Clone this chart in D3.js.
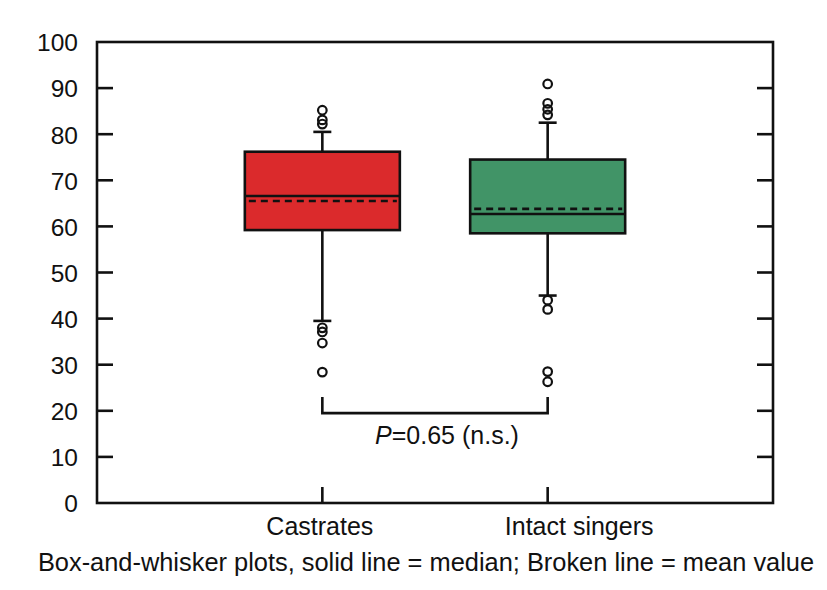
<!DOCTYPE html>
<html>
<head>
<meta charset="utf-8">
<script src="https://cdn.jsdelivr.net/npm/d3@7"></script>
<style>
  body { margin: 0; background: #fff; }
  text { font-family: "Liberation Sans", Arial, sans-serif; fill: #111; }
</style>
</head>
<body>
<div id="chart"></div>
<script>
// Data
var groups = ["Castrates", "Intact singers"];
var boxColors = ["#db2a2c", "#419467"];
var q1 = [59.2, 58.5];
var q3 = [76.2, 74.5];
var medians = [66.6, 62.7];
var means = [65.5, 63.8];
var whiskerLow = [39.5, 45.0];
var whiskerHigh = [80.5, 82.5];
var outliers = [
  [85.2, 83.1, 82.2, 38.0, 37.1, 34.7, 28.4],
  [90.9, 86.7, 85.4, 84.2, 44.0, 42.0, 28.5, 26.3]
];
var yTicks = [0, 10, 20, 30, 40, 50, 60, 70, 80, 90, 100];
var pLabel = "=0.65 (n.s.)";
var bracketLow = 19.5;
var bracketHigh = 23;
var caption = "Box-and-whisker plots, solid line = median; Broken line = mean value";

// Set up chart
var svgWidth = 827;
var svgHeight = 590;
var margin = { top: 42, right: 54, bottom: 87, left: 97 };
var width = svgWidth - margin.left - margin.right;
var height = svgHeight - margin.top - margin.bottom;
var lw = 2.6;

var svg = d3.select("#chart")
  .append("svg")
  .attr("width", svgWidth)
  .attr("height", svgHeight);

var chartGroup = svg.append("g")
  .attr("transform", `translate(${margin.left}, ${margin.top})`);

// Scales
var xScale = d3.scalePoint()
  .domain(groups)
  .range([0, width])
  .padding(1);

var yScale = d3.scaleLinear()
  .domain([0, 100])
  .range([height, 0]);

var boxWidth = 155;
var capWidth = 18;

// Boxes
groups.forEach(function(g, i) {
  var cx = xScale(g);
  var grp = chartGroup.append("g");

  // whiskers
  grp.append("line")
    .attr("x1", cx).attr("x2", cx)
    .attr("y1", yScale(whiskerHigh[i])).attr("y2", yScale(q3[i]))
    .attr("stroke", "#111").attr("stroke-width", lw);
  grp.append("line")
    .attr("x1", cx).attr("x2", cx)
    .attr("y1", yScale(q1[i])).attr("y2", yScale(whiskerLow[i]))
    .attr("stroke", "#111").attr("stroke-width", lw);
  [whiskerHigh[i], whiskerLow[i]].forEach(function(v) {
    grp.append("line")
      .attr("x1", cx - capWidth / 2).attr("x2", cx + capWidth / 2)
      .attr("y1", yScale(v)).attr("y2", yScale(v))
      .attr("stroke", "#111").attr("stroke-width", lw);
  });

  // box
  grp.append("rect")
    .attr("x", cx - boxWidth / 2)
    .attr("y", yScale(q3[i]))
    .attr("width", boxWidth)
    .attr("height", yScale(q1[i]) - yScale(q3[i]))
    .attr("fill", boxColors[i])
    .attr("stroke", "#111")
    .attr("stroke-width", lw);

  // median
  grp.append("line")
    .attr("x1", cx - boxWidth / 2).attr("x2", cx + boxWidth / 2)
    .attr("y1", yScale(medians[i])).attr("y2", yScale(medians[i]))
    .attr("stroke", "#111").attr("stroke-width", lw);

  // mean
  grp.append("line")
    .attr("x1", cx - boxWidth / 2 + 4).attr("x2", cx + boxWidth / 2 - 3)
    .attr("y1", yScale(means[i])).attr("y2", yScale(means[i]))
    .attr("stroke", "#111").attr("stroke-width", lw)
    .attr("stroke-dasharray", "7,5");

  // outliers
  grp.selectAll("circle")
    .data(outliers[i])
    .enter()
    .append("circle")
    .attr("cx", cx)
    .attr("cy", d => yScale(d))
    .attr("r", 4.3)
    .attr("fill", "none")
    .attr("stroke", "#111")
    .attr("stroke-width", 2.2);
});

// Frame
chartGroup.append("rect")
  .attr("x", 0).attr("y", 0)
  .attr("width", width).attr("height", height)
  .attr("fill", "none")
  .attr("stroke", "#111")
  .attr("stroke-width", 2.6);

// Y axis (ticks inside, mirrored on the right)
var leftAxis = d3.axisLeft(yScale).tickValues(yTicks).tickSize(0).tickPadding(19);
var yAxisG = chartGroup.append("g").call(leftAxis);
yAxisG.select(".domain").remove();
yAxisG.attr("font-size", null).attr("font-family", null);
yAxisG.selectAll("text")
  .style("font-size", "24.5px")
  .attr("fill", "#111")
  .attr("dy", "0.36em");

var innerTicks = yTicks.filter(d => d > 0 && d < 100);
chartGroup.selectAll(".ytick-l")
  .data(innerTicks)
  .enter()
  .append("line")
  .attr("x1", 0).attr("x2", 16)
  .attr("y1", d => yScale(d)).attr("y2", d => yScale(d))
  .attr("stroke", "#111").attr("stroke-width", lw);
chartGroup.selectAll(".ytick-r")
  .data(innerTicks)
  .enter()
  .append("line")
  .attr("x1", width - 16).attr("x2", width)
  .attr("y1", d => yScale(d)).attr("y2", d => yScale(d))
  .attr("stroke", "#111").attr("stroke-width", lw);

// X axis
var bottomAxis = d3.axisBottom(xScale).tickSize(0).tickPadding(14);
var xAxisG = chartGroup.append("g")
  .attr("transform", `translate(0, ${height})`)
  .call(bottomAxis);
xAxisG.select(".domain").remove();
xAxisG.attr("font-size", null).attr("font-family", null);
// the second label sits a little right of its tick in the original
xAxisG.selectAll("text")
  .style("font-size", "25px")
  .attr("fill", "#111")
  .attr("dx", (d, i) => i === 0 ? -3 : 31);

chartGroup.selectAll(".xtick")
  .data(groups)
  .enter()
  .append("line")
  .attr("x1", d => xScale(d)).attr("x2", d => xScale(d))
  .attr("y1", height - 16).attr("y2", height)
  .attr("stroke", "#111").attr("stroke-width", lw);

// Significance bracket
var bx1 = xScale(groups[0]);
var bx2 = xScale(groups[1]);
chartGroup.append("path")
  .attr("d", `M${bx1},${yScale(bracketHigh)}V${yScale(bracketLow)}H${bx2}V${yScale(bracketHigh)}`)
  .attr("fill", "none")
  .attr("stroke", "#111")
  .attr("stroke-width", lw);

var pText = chartGroup.append("text")
  .attr("x", (bx1 + bx2) / 2 + 12)
  .attr("y", yScale(bracketLow) + 31)
  .attr("text-anchor", "middle")
  .style("font-size", "25px");
pText.append("tspan").attr("font-style", "italic").text("P");
pText.append("tspan").text(pLabel);

// Caption
svg.append("text")
  .attr("x", 426)
  .attr("y", 571)
  .attr("text-anchor", "middle")
  .style("font-size", "25.4px")
  .text(caption);
</script>
</body>
</html>
